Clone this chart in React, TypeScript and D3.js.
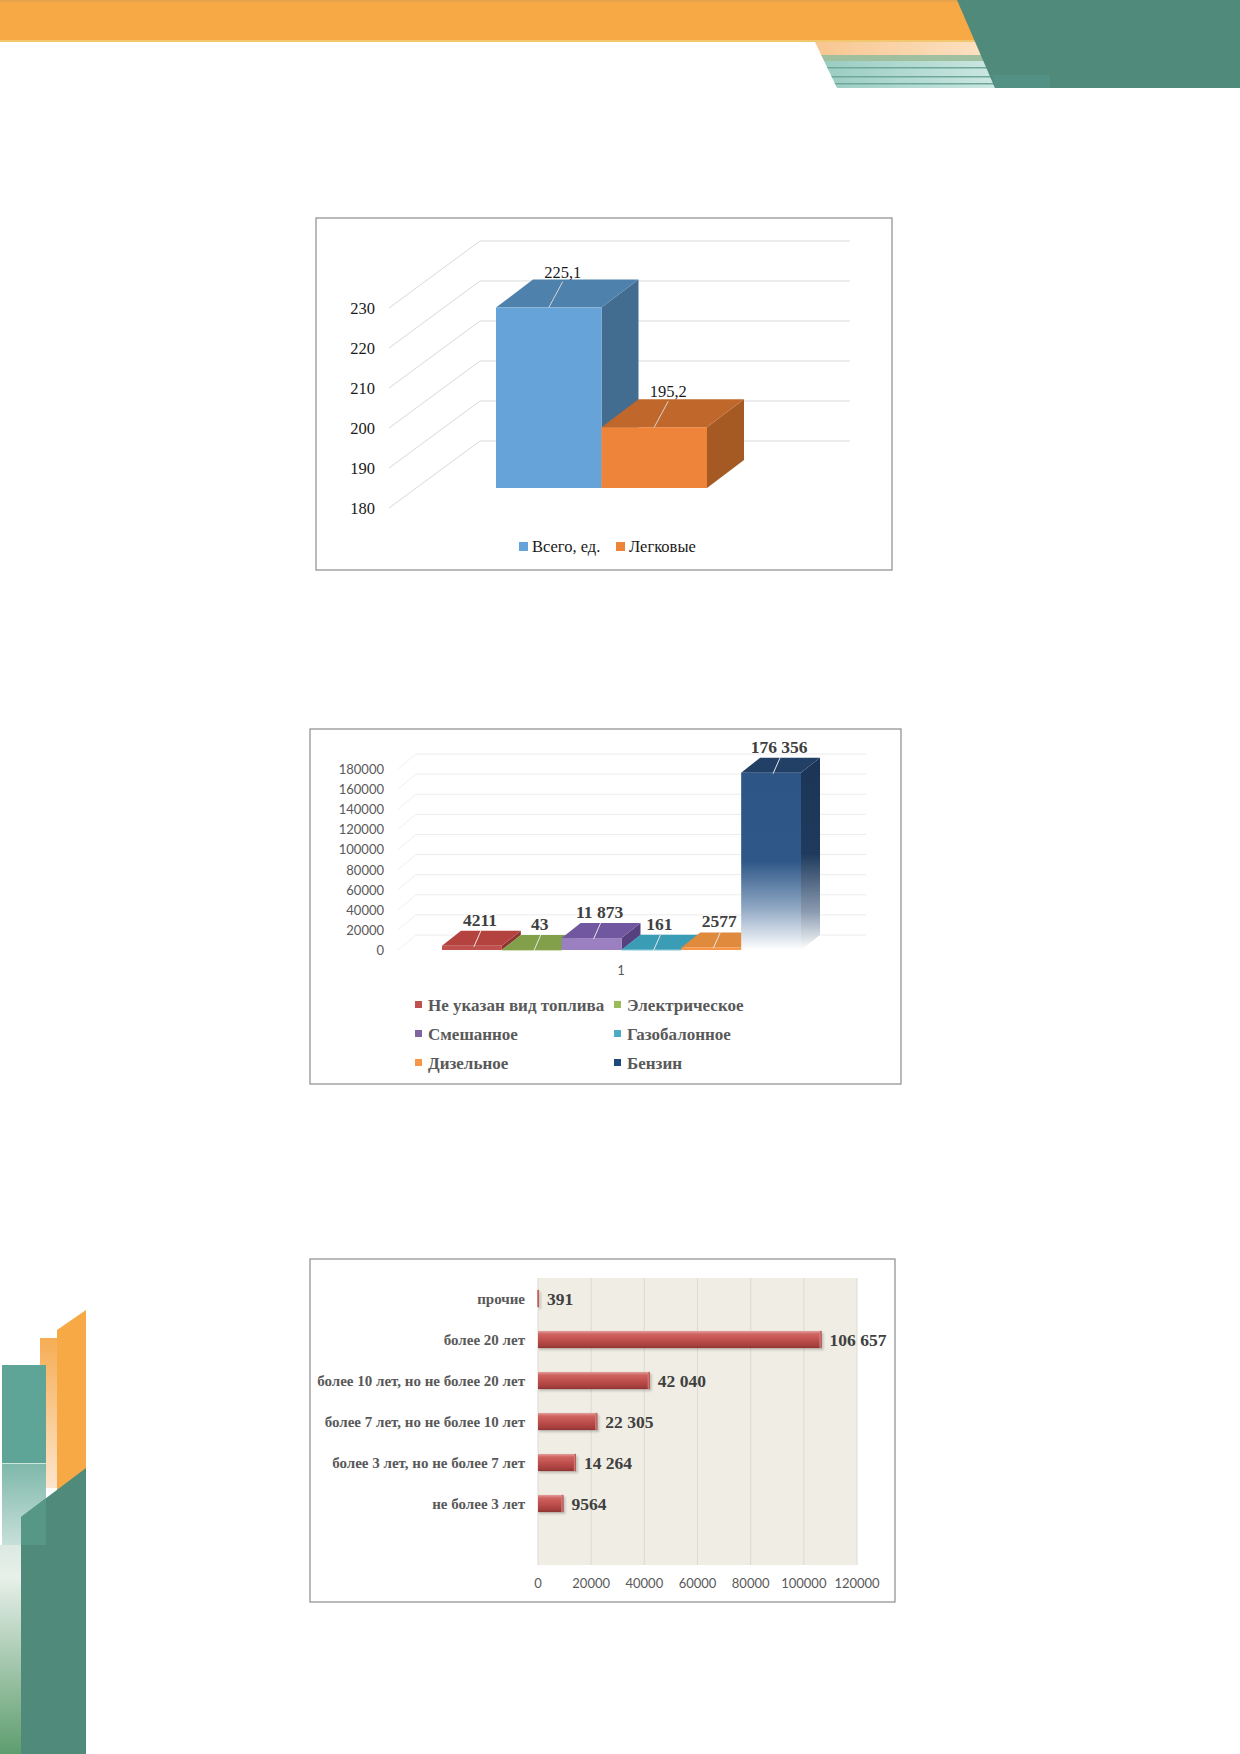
import React from "react";
import * as d3 from "d3";

// chart 1: total vs passenger cars
const c1Series = ["Всего, ед.", "Легковые"];
const c1Values = [225.1, 195.2];
const c1Ticks = [180, 190, 200, 210, 220, 230];

// chart 2: fuel types
const fuelNames = [
  "Не указан вид топлива",
  "Электрическое",
  "Смешанное",
  "Газобалонное",
  "Дизельное",
  "Бензин",
];
const fuelValues = [4211, 43, 11873, 161, 2577, 176356];
const fuelLabels = ["4211", "43", "11 873", "161", "2577", "176 356"];
const fuelTicks = [0, 20000, 40000, 60000, 80000, 100000, 120000, 140000, 160000, 180000];

// chart 3: vehicle age
const ageNames = [
  "прочие",
  "более 20 лет",
  "более 10 лет, но не более 20 лет",
  "более 7 лет, но не более 10 лет",
  "более 3 лет, но не более 7 лет",
  "не более 3 лет",
];
const ageValues = [391, 106657, 42040, 22305, 14264, 9564];
const ageLabels = ["391", "106 657", "42 040", "22 305", "14 264", "9564"];
const ageTicks = [0, 20000, 40000, 60000, 80000, 100000, 120000];

const SERIF = "'Liberation Serif', 'Times New Roman', serif";
const SANS = "Lato, 'Liberation Sans', sans-serif";

const c1Front = ["#66a3d8", "#ee8439"];
const c1Top = ["#4f81ad", "#c0672b"];
const c1Side = ["#426c90", "#a55a24"];

const fuelFront = ["#c0504d", "#9bbb59", "#9a80c0", "#4bacc6", "#f79646", "url(#benzFront)"];
const fuelTop = ["#b4433f", "#82a04a", "#7157a0", "#3a9db5", "#df8a3c", "#223f66"];
const fuelSide = ["#8e3532", "#6a8637", "#56407e", "#2d8197", "#b86b2c", "url(#benzSide)"];
const fuelLegend = ["#c0504d", "#9bbb59", "#8064a2", "#4bacc6", "#f79646", "#1f497d"];

const Decorations = () => (
  <g>
    {/* top band */}
    <rect x={0} y={0} width={990} height={41} fill="#f6a945" />
    <rect x={0} y={0} width={990} height={2} fill="#e8a24c" />
    <rect x={0} y={40} width={975} height={2} fill="#f3c76e" />
    <clipPath id="stripeClip">
      <polygon points="815,42 1000,42 1010,88 837,88" />
    </clipPath>
    <g clipPath="url(#stripeClip)">
      <rect x={800} y={42} width={220} height={14} fill="url(#stripeOrange)" />
      <rect x={800} y={55} width={220} height={6} fill="#9fbf9f" />
      <rect x={800} y={61} width={220} height={27} fill="url(#stripeTeal)" />
      <rect x={800} y={67} width={220} height={1.5} fill="#6fa89b" />
      <rect x={800} y={76} width={220} height={1.5} fill="#6fa89b" />
      <rect x={800} y={83} width={220} height={1.5} fill="#6fa89b" />
    </g>
    <polygon points="957,0 1240,0 1240,88 995,88" fill="#4f8a7a" />
    <polygon points="992,75 1050,75 1050,88 995,88" fill="#55968a" opacity={0.6} />

    {/* left side */}
    <polygon points="57,1330 86,1310 86,1480 57,1500" fill="#f6a945" />
    <rect x={40} y={1338} width={17} height={150} fill="url(#leftOrange)" />
    <rect x={2} y={1365} width={44} height={100} fill="#5ea597" />
    <rect x={2} y={1464} width={44} height={81} fill="url(#leftTeal)" />
    <rect x={2} y={1463} width={44} height={1} fill="#cfe6df" />
    <rect x={0} y={1545} width={21} height={209} fill="url(#leftGreen)" />
    <polygon points="21,1517 86,1468 86,1754 21,1754" fill="#4f8a7a" />
    <polygon points="21,1517 46,1498 46,1545 21,1545" fill="#5a9c8c" opacity={0.7} />
  </g>
);

const Frame = ({ x, y, w, h }: { x: number; y: number; w: number; h: number }) => (
  <rect x={x} y={y} width={w} height={h} fill="#ffffff" stroke="#8c8c8c" strokeWidth={1.2} />
);

const Chart1 = () => {
  const y = d3.scaleLinear().domain([180, 230]).range([488, 288]);
  const x = d3.scaleBand<string>().domain(c1Series).range([496, 707]);
  const bw = x.bandwidth();
  const dx = 37;
  const dy = 28;
  const wallShift = 47;
  return (
    <g>
      <Frame x={316} y={218} w={576} h={352} />
      {c1Ticks.map((t) => (
        <g key={t}>
          <line x1={480} x2={850} y1={y(t) - wallShift} y2={y(t) - wallShift} stroke="#d9d9d9" strokeWidth={1} />
          <line x1={389} x2={480} y1={y(t) + 20} y2={y(t) - wallShift} stroke="#d9d9d9" strokeWidth={1} />
          <text x={375} y={y(t) + 20} textAnchor="end" dominantBaseline="central" fontFamily={SERIF} fontSize={16.5} fill="#1a1a1a">
            {t}
          </text>
        </g>
      ))}
      {c1Series.map((s, i) => {
        const x0 = x(s) ?? 0;
        const x1 = x0 + bw;
        const yt = y(c1Values[i]);
        const yb = y(180);
        const cx = x0 + bw / 2;
        return (
          <g key={s}>
            <polygon points={`${x1},${yt} ${x1 + dx},${yt - dy} ${x1 + dx},${yb - dy} ${x1},${yb}`} fill={c1Side[i]} />
            <polygon points={`${x0},${yt} ${x0 + dx},${yt - dy} ${x1 + dx},${yt - dy} ${x1},${yt}`} fill={c1Top[i]} />
            <rect x={x0} y={yt} width={bw} height={yb - yt} fill={c1Front[i]} />
            <line x1={cx + 14} y1={yt - 26} x2={cx} y2={yt} stroke="#d6d6d6" strokeWidth={1} />
            <text x={cx + 14} y={yt - 30} textAnchor="middle" fontFamily={SERIF} fontSize={16.5} fill="#1a1a1a">
              {String(c1Values[i]).replace(".", ",")}
            </text>
          </g>
        );
      })}
      {c1Series.map((s, i) => {
        const lx = [519, 616][i];
        return (
          <g key={s}>
            <rect x={lx} y={542} width={9} height={9} fill={c1Front[i]} />
            <text x={lx + 13} y={552} fontFamily={SERIF} fontSize={16.5} fill="#1a1a1a">
              {s}
            </text>
          </g>
        );
      })}
    </g>
  );
};

const Chart2 = () => {
  const y = d3.scaleLinear().domain([0, 180000]).range([950, 769]);
  const x = d3.scaleBand<string>().domain(fuelNames).range([442, 801]);
  const bw = x.bandwidth();
  const dx = 19;
  const dy = 15;
  const legendX = [415, 614];
  return (
    <g>
      <Frame x={310} y={729} w={591} h={355} />
      {fuelTicks.map((t) => (
        <g key={t}>
          <line x1={416} x2={866} y1={y(t) - dy} y2={y(t) - dy} stroke="#ececec" strokeWidth={1} />
          <line x1={398} x2={416} y1={y(t)} y2={y(t) - dy} stroke="#f0f0f0" strokeWidth={1} />
          <text x={384} y={y(t)} textAnchor="end" dominantBaseline="central" fontFamily={SANS} fontSize={13} fill="#595959">
            {t}
          </text>
        </g>
      ))}
      {fuelNames.map((s, i) => {
        const x0 = x(s) ?? 0;
        const x1 = x0 + bw;
        const yt = y(fuelValues[i]);
        const yb = y(0);
        return (
          <g key={s}>
            <polygon points={`${x1},${yt} ${x1 + dx},${yt - dy} ${x1 + dx},${yb - dy} ${x1},${yb}`} fill={fuelSide[i]} />
            <polygon points={`${x0},${yt} ${x0 + dx},${yt - dy} ${x1 + dx},${yt - dy} ${x1},${yt}`} fill={fuelTop[i]} />
            <rect x={x0} y={yt} width={bw} height={Math.max(yb - yt, 0.5)} fill={fuelFront[i]} />
          </g>
        );
      })}
      {fuelNames.map((s, i) => {
        const cx = (x(s) ?? 0) + bw / 2;
        const yt = y(fuelValues[i]);
        return (
          <g key={s + "l"}>
            <line x1={cx + 9} y1={yt - 15} x2={cx + 2} y2={yt + 1} stroke="#e8e8e8" strokeWidth={1} />
            <text x={cx + 8} y={yt - 20} textAnchor="middle" fontFamily={SERIF} fontWeight="bold" fontSize={17.5} fill="#404040">
              {fuelLabels[i]}
            </text>
          </g>
        );
      })}
      <text x={621} y={970} textAnchor="middle" dominantBaseline="central" fontFamily={SANS} fontSize={13} fill="#595959">
        1
      </text>
      {fuelNames.map((s, i) => {
        const lx = legendX[i % 2];
        const ly = 1005 + Math.floor(i / 2) * 29;
        return (
          <g key={s + "g"}>
            <rect x={lx} y={ly - 4} width={7} height={7} fill={fuelLegend[i]} />
            <text x={lx + 13} y={ly} dominantBaseline="central" fontFamily={SERIF} fontWeight="bold" fontSize={17} fill="#595959">
              {s}
            </text>
          </g>
        );
      })}
    </g>
  );
};

const Chart3 = () => {
  const x = d3.scaleLinear().domain([0, 120000]).range([538, 857]);
  const y = d3.scaleBand<string>().domain(ageNames).range([1278, 1524]).paddingInner(0.58).paddingOuter(0.29);
  const bh = y.bandwidth();
  return (
    <g>
      <Frame x={310} y={1259} w={585} h={343} />
      <rect x={538} y={1278} width={319} height={287} fill="#efede4" />
      {ageTicks.map((t) => (
        <g key={t}>
          <line x1={x(t)} x2={x(t)} y1={1278} y2={1565} stroke="#dcdad2" strokeWidth={1} />
          <text x={x(t)} y={1583} textAnchor="middle" dominantBaseline="central" fontFamily={SANS} fontSize={13} fill="#595959">
            {t}
          </text>
        </g>
      ))}
      {ageNames.map((s, i) => {
        const y0 = y(s) ?? 0;
        const w = x(ageValues[i]) - x(0);
        return (
          <g key={s}>
            <rect x={x(0) + 1} y={y0 + 2} width={w + 1} height={bh} fill="#000" opacity={0.18} filter="url(#soft)" />
            <rect x={x(0)} y={y0} width={w} height={bh} fill="url(#ageBar)" />
            <rect x={x(0) + w - 2} y={y0} width={2} height={bh} fill="url(#ageCap)" />
            <text x={525} y={y0 + bh / 2} textAnchor="end" dominantBaseline="central" fontFamily={SERIF} fontWeight="bold" fontSize={15} fill="#595959">
              {s}
            </text>
            <text x={x(ageValues[i]) + 8} y={y0 + bh / 2} dominantBaseline="central" fontFamily={SERIF} fontWeight="bold" fontSize={17.5} fill="#404040">
              {ageLabels[i]}
            </text>
          </g>
        );
      })}
    </g>
  );
};

export default function App() {
  return (
    <div style={{ position: "absolute", left: 0, top: 0 }}>
      <svg width={1240} height={1754} viewBox="0 0 1240 1754" style={{ display: "block", background: "#ffffff" }}>
        <defs>
          <linearGradient id="stripeOrange" x1="0" x2="1" y1="0" y2="0">
            <stop offset="0" stopColor="#f7c48c" />
            <stop offset="1" stopColor="#fde6cc" />
          </linearGradient>
          <linearGradient id="stripeTeal" x1="0" x2="1" y1="0" y2="0">
            <stop offset="0" stopColor="#93c9bd" />
            <stop offset="1" stopColor="#d3ebe5" />
          </linearGradient>
          <linearGradient id="leftOrange" x1="0" x2="0" y1="0" y2="1">
            <stop offset="0" stopColor="#f6ad55" />
            <stop offset="1" stopColor="#fde5cc" />
          </linearGradient>
          <linearGradient id="leftTeal" x1="0" x2="0" y1="0" y2="1">
            <stop offset="0" stopColor="#7fb8ab" />
            <stop offset="1" stopColor="#c7e0d9" />
          </linearGradient>
          <linearGradient id="leftGreen" x1="0" x2="0" y1="0" y2="1">
            <stop offset="0" stopColor="#dbe9e2" />
            <stop offset="0.15" stopColor="#e8f0ea" />
            <stop offset="1" stopColor="#5e9d6e" />
          </linearGradient>
          <linearGradient id="benzFront" x1="0" x2="0" y1="0" y2="1">
            <stop offset="0" stopColor="#2d5686" />
            <stop offset="0.5" stopColor="#2f5888" />
            <stop offset="0.75" stopColor="#8aa3c0" />
            <stop offset="1" stopColor="#ffffff" />
          </linearGradient>
          <linearGradient id="benzSide" x1="0" x2="0" y1="0" y2="1">
            <stop offset="0" stopColor="#1c3556" />
            <stop offset="0.5" stopColor="#1f3a5d" />
            <stop offset="0.8" stopColor="#8a9bb0" />
            <stop offset="1" stopColor="#ffffff" />
          </linearGradient>
          <linearGradient id="ageBar" x1="0" x2="0" y1="0" y2="1">
            <stop offset="0" stopColor="#e2a19f" />
            <stop offset="0.18" stopColor="#cf6461" />
            <stop offset="0.5" stopColor="#c0504d" />
            <stop offset="0.85" stopColor="#a6403e" />
            <stop offset="1" stopColor="#8c3432" />
          </linearGradient>
          <linearGradient id="ageCap" x1="0" x2="1" y1="0" y2="0">
            <stop offset="0" stopColor="#d98c8a" />
            <stop offset="1" stopColor="#b44c4a" />
          </linearGradient>
          <filter id="soft" x="-5%" y="-50%" width="110%" height="200%">
            <feGaussianBlur stdDeviation="1.2" />
          </filter>
        </defs>
        <Decorations />
        <Chart1 />
        <Chart2 />
        <Chart3 />
      </svg>
    </div>
  );
}
